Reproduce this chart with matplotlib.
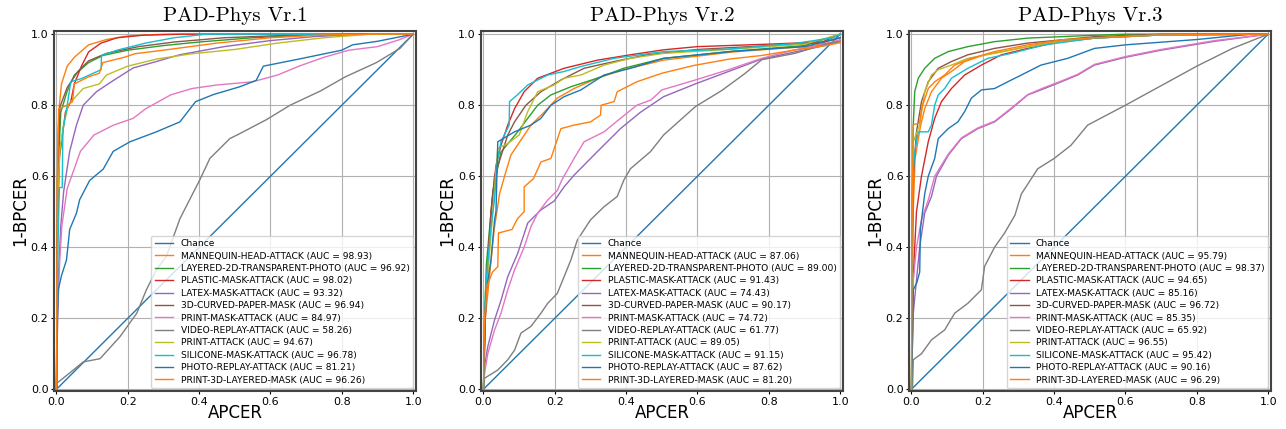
import matplotlib
matplotlib.use("Agg")
import matplotlib.pyplot as plt

# ---------------- data ----------------
labels = ["MANNEQUIN-HEAD-ATTACK", "LAYERED-2D-TRANSPARENT-PHOTO", "PLASTIC-MASK-ATTACK",
          "LATEX-MASK-ATTACK", "3D-CURVED-PAPER-MASK", "PRINT-MASK-ATTACK",
          "VIDEO-REPLAY-ATTACK", "PRINT-ATTACK", "SILICONE-MASK-ATTACK",
          "PHOTO-REPLAY-ATTACK", "PRINT-3D-LAYERED-MASK"]
titles = ["PAD-Phys Vr.1", "PAD-Phys Vr.2", "PAD-Phys Vr.3"]

auc_v1 = [98.93, 96.92, 98.02, 93.32, 96.94, 84.97, 58.26, 94.67, 96.78, 81.21, 96.26]
auc_v2 = [87.06, 89.00, 91.43, 74.43, 90.17, 74.72, 61.77, 89.05, 91.15, 87.62, 81.20]
auc_v3 = [95.79, 98.37, 94.65, 85.16, 96.72, 85.35, 65.92, 96.55, 95.42, 90.16, 96.29]

chance_x = [0, 1]
chance_y = [0, 1]

# ---- Vr.1 ----
v1_mannequin_x = [0, 0.002, 0.004, 0.008, 0.014, 0.03, 0.05, 0.09, 0.14, 0.2, 0.3, 1.0]
v1_mannequin_y = [0, 0.55, 0.72, 0.8, 0.86, 0.91, 0.935, 0.97, 0.985, 0.995, 1.0, 1.0]
v1_layered_x = [0, 0.004, 0.012, 0.03, 0.05, 0.09, 0.13, 0.2, 0.3, 0.4, 0.55, 0.7, 0.85, 1.0]
v1_layered_y = [0, 0.6, 0.78, 0.84, 0.885, 0.92, 0.94, 0.955, 0.968, 0.978, 0.99, 0.997, 1.0, 1.0]
v1_plastic_x = [0, 0.002, 0.008, 0.025, 0.04, 0.05, 0.07, 0.09, 0.125, 0.17, 0.24, 0.35, 1.0]
v1_plastic_y = [0, 0.4, 0.65, 0.78, 0.81, 0.86, 0.91, 0.95, 0.975, 0.99, 0.997, 1.0, 1.0]
v1_latex_x = [0, 0.002, 0.005, 0.012, 0.02, 0.037, 0.056, 0.075, 0.112, 0.16, 0.215, 0.28, 0.345,
              0.47, 0.6, 0.72, 0.85, 1.0]
v1_latex_y = [0, 0.2, 0.31, 0.46, 0.556, 0.67, 0.744, 0.8, 0.838, 0.87, 0.905, 0.923, 0.942,
              0.965, 0.982, 0.993, 1.0, 1.0]
v1_curved_x = [0, 0.003, 0.01, 0.03, 0.06, 0.09, 0.14, 0.23, 0.33, 0.47, 0.65, 0.8, 1.0]
v1_curved_y = [0, 0.6, 0.796, 0.85, 0.895, 0.925, 0.946, 0.965, 0.978, 0.99, 0.997, 1.0, 1.0]
v1_printmask_x = [0, 0.003, 0.009, 0.015, 0.03, 0.067, 0.105, 0.16, 0.215, 0.25, 0.32, 0.38, 0.45,
                  0.55, 0.62, 0.68, 0.75, 0.82, 0.9, 0.96, 1.0]
v1_printmask_y = [0, 0.2, 0.36, 0.46, 0.565, 0.67, 0.716, 0.744, 0.763, 0.79, 0.829, 0.847, 0.857,
                  0.866, 0.885, 0.91, 0.935, 0.955, 0.965, 0.984, 1.0]
v1_video_x = [0, 0.002, 0.005, 0.047, 0.075, 0.122, 0.178, 0.225, 0.252, 0.28, 0.308, 0.346, 0.383,
              0.402, 0.43, 0.486, 0.514, 0.59, 0.655, 0.74, 0.81, 0.897, 0.963, 1.0]
v1_video_y = [0, 0.02, 0.02, 0.054, 0.077, 0.086, 0.148, 0.214, 0.28, 0.336, 0.374, 0.48, 0.553,
              0.59, 0.65, 0.706, 0.72, 0.76, 0.8, 0.84, 0.88, 0.92, 0.96, 1.0]
v1_print_x = [0, 0.004, 0.01, 0.02, 0.033, 0.05, 0.075, 0.12, 0.14, 0.2, 0.28, 0.38, 0.5, 0.62,
              0.75, 0.88, 1.0]
v1_print_y = [0, 0.55, 0.68, 0.744, 0.8, 0.82, 0.847, 0.86, 0.885, 0.91, 0.93, 0.945, 0.957, 0.975,
              0.99, 1.0, 1.0]
v1_silicone_x = [0, 0.004, 0.008, 0.016, 0.018, 0.03, 0.04, 0.07, 0.125, 0.126, 0.17, 0.25, 0.33,
                 0.42, 1.0]
v1_silicone_y = [0, 0.4, 0.568, 0.568, 0.73, 0.8, 0.866, 0.875, 0.9, 0.94, 0.955, 0.975, 0.99,
                 1.0, 1.0]
v1_photo_x = [0, 0.003, 0.005, 0.014, 0.028, 0.037, 0.056, 0.065, 0.093, 0.131, 0.159, 0.206, 0.28,
              0.346, 0.39, 0.44, 0.514, 0.56, 0.58, 0.68, 0.8, 0.83, 0.9, 1.0]
v1_photo_y = [0, 0.2, 0.28, 0.32, 0.364, 0.45, 0.496, 0.534, 0.588, 0.62, 0.67, 0.697, 0.725,
              0.753, 0.81, 0.83, 0.852, 0.87, 0.91, 0.93, 0.955, 0.97, 0.98, 1.0]
v1_print3d_x = [0, 0.003, 0.006, 0.03, 0.045, 0.05, 0.09, 0.12, 0.13, 0.19, 0.22, 0.3, 0.45, 0.6,
                0.75, 0.9, 1.0]
v1_print3d_y = [0, 0.6, 0.79, 0.8, 0.81, 0.86, 0.88, 0.89, 0.92, 0.935, 0.945, 0.955, 0.975, 0.99,
                0.998, 1.0, 1.0]

# ---- Vr.2 ----
v2_mannequin_x = [0, 0.005, 0.02, 0.03, 0.045, 0.059, 0.077, 0.133, 0.17, 0.207, 0.254, 0.319,
                  0.393, 0.505, 0.7, 0.9, 1.0]
v2_mannequin_y = [0, 0.2, 0.35, 0.45, 0.55, 0.6, 0.66, 0.744, 0.78, 0.82, 0.847, 0.876,
                  0.9, 0.927, 0.95, 0.965, 0.98]
v2_layered_x = [0, 0.003, 0.008, 0.015, 0.026, 0.049, 0.096, 0.124, 0.152, 0.189, 0.245, 0.319,
                0.393, 0.505, 0.7, 0.9, 1.0]
v2_layered_y = [0, 0.2, 0.35, 0.43, 0.556, 0.668, 0.725, 0.763, 0.8, 0.829, 0.852, 0.876,
                0.904, 0.932, 0.952, 0.968, 1.0]
v2_plastic_x = [0, 0.005, 0.01, 0.021, 0.035, 0.049, 0.068, 0.087, 0.114, 0.152, 0.189, 0.226,
                0.32, 0.412, 0.505, 0.6, 0.8, 0.95, 1.0]
v2_plastic_y = [0, 0.2, 0.33, 0.5, 0.63, 0.687, 0.744, 0.79, 0.838, 0.876, 0.89, 0.904,
                0.927, 0.942, 0.956, 0.965, 0.972, 0.978, 1.0]
v2_latex_x = [0, 0.003, 0.012, 0.031, 0.049, 0.068, 0.096, 0.124, 0.161, 0.198, 0.226, 0.254,
              0.319, 0.384, 0.44, 0.505, 0.594, 0.687, 0.78, 0.873, 0.966, 1.0]
v2_latex_y = [0, 0.064, 0.12, 0.195, 0.25, 0.317, 0.383, 0.468, 0.505, 0.53, 0.57, 0.603,
              0.669, 0.734, 0.78, 0.824, 0.86, 0.895, 0.93, 0.95, 0.97, 0.98]
v2_curved_x = [0, 0.005, 0.012, 0.022, 0.031, 0.068, 0.087, 0.119, 0.161, 0.217, 0.282, 0.366,
               0.459, 0.6, 0.8, 0.95, 1.0]
v2_curved_y = [0, 0.2, 0.35, 0.5, 0.6, 0.716, 0.753, 0.8, 0.838, 0.871, 0.904, 0.923,
               0.942, 0.957, 0.968, 0.976, 0.99]
v2_printmask_x = [0, 0.003, 0.012, 0.031, 0.049, 0.068, 0.087, 0.114, 0.133, 0.152, 0.18, 0.207,
                  0.22, 0.254, 0.282, 0.338, 0.384, 0.43, 0.47, 0.5, 0.594, 0.687, 0.78, 0.873,
                  0.966, 1.0]
v2_printmask_y = [0, 0.045, 0.1, 0.167, 0.214, 0.28, 0.336, 0.4, 0.458, 0.496, 0.533, 0.56,
                  0.59, 0.65, 0.697, 0.725, 0.763, 0.8, 0.815, 0.843, 0.871, 0.9, 0.932, 0.956,
                  0.974, 0.985]
v2_video_x = [0, 0.003, 0.04, 0.068, 0.087, 0.105, 0.133, 0.161, 0.18, 0.207, 0.226, 0.245, 0.263,
              0.3, 0.338, 0.375, 0.394, 0.412, 0.468, 0.505, 0.594, 0.669, 0.734, 0.78, 0.873,
              0.966, 1.0]
v2_video_y = [0, 0.031, 0.054, 0.083, 0.11, 0.158, 0.177, 0.214, 0.242, 0.27, 0.317, 0.364, 0.42,
              0.477, 0.514, 0.543, 0.59, 0.621, 0.669, 0.716, 0.796, 0.842, 0.89, 0.928, 0.946,
              0.974, 0.98]
v2_print_x = [0, 0.003, 0.01, 0.02, 0.03, 0.04, 0.068, 0.1, 0.124, 0.152, 0.198, 0.226, 0.273,
              0.338, 0.412, 0.505, 0.7, 0.9, 1.0]
v2_print_y = [0, 0.19, 0.3, 0.42, 0.55, 0.678, 0.692, 0.716, 0.782, 0.838, 0.857, 0.876, 0.885,
              0.913, 0.932, 0.946, 0.958, 0.972, 1.0]
v2_silicone_x = [0, 0.003, 0.007, 0.02, 0.03, 0.04, 0.049, 0.072, 0.073, 0.096, 0.124, 0.18,
                 0.226, 0.273, 0.366, 0.505, 0.687, 0.873, 0.98, 1.0]
v2_silicone_y = [0, 0.2, 0.3, 0.45, 0.527, 0.65, 0.697, 0.744, 0.81, 0.83, 0.857, 0.885,
                 0.895, 0.909, 0.932, 0.951, 0.958, 0.974, 0.99, 1.0]
v2_photo_x = [0, 0.004, 0.007, 0.021, 0.031, 0.035, 0.04, 0.087, 0.133, 0.161, 0.189, 0.226,
              0.273, 0.338, 0.412, 0.505, 0.7, 0.9, 1.0]
v2_photo_y = [0, 0.2, 0.27, 0.364, 0.477, 0.5, 0.697, 0.725, 0.744, 0.763, 0.8, 0.824,
              0.843, 0.885, 0.904, 0.932, 0.952, 0.965, 0.99]
v2_print3d_x = [0, 0.003, 0.01, 0.025, 0.04, 0.042, 0.08, 0.095, 0.114, 0.114, 0.14, 0.161, 0.189,
                0.217, 0.254, 0.3, 0.328, 0.33, 0.366, 0.375, 0.43, 0.5, 0.59, 0.69, 0.78, 0.87,
                0.96, 1.0]
v2_print3d_y = [0, 0.2, 0.29, 0.33, 0.345, 0.44, 0.45, 0.48, 0.5, 0.57, 0.593, 0.64, 0.65,
                0.734, 0.744, 0.753, 0.772, 0.8, 0.81, 0.838, 0.866, 0.89, 0.912, 0.93, 0.94,
                0.955, 0.968, 0.976]

# ---- Vr.3 ----
v3_mannequin_x = [0, 0.003, 0.01, 0.025, 0.037, 0.056, 0.084, 0.112, 0.149, 0.205, 0.28, 0.373,
                  0.513, 0.7, 1.0]
v3_mannequin_y = [0, 0.45, 0.65, 0.74, 0.79, 0.838, 0.876, 0.895, 0.923, 0.942, 0.956, 0.975,
                  0.989, 0.998, 1.0]
v3_layered_x = [0, 0.002, 0.005, 0.009, 0.019, 0.037, 0.065, 0.103, 0.158, 0.233, 0.326, 0.42,
                0.513, 0.6, 1.0]
v3_layered_y = [0, 0.5, 0.744, 0.838, 0.876, 0.904, 0.932, 0.951, 0.965, 0.979, 0.989, 0.993,
                0.997, 1.0, 1.0]
v3_plastic_x = [0, 0.003, 0.005, 0.009, 0.014, 0.028, 0.047, 0.065, 0.084, 0.112, 0.149, 0.196,
                0.252, 0.326, 0.42, 0.513, 0.7, 1.0]
v3_plastic_y = [0, 0.2, 0.31, 0.4, 0.5, 0.6, 0.697, 0.763, 0.81, 0.847, 0.885, 0.913,
                0.942, 0.96, 0.979, 0.989, 0.998, 1.0]
v3_latex_x = [0, 0.002, 0.005, 0.014, 0.023, 0.037, 0.056, 0.07, 0.103, 0.14, 0.186, 0.233, 0.28,
              0.326, 0.373, 0.42, 0.466, 0.513, 0.6, 0.7, 0.85, 1.0]
v3_latex_y = [0, 0.1, 0.214, 0.308, 0.4, 0.496, 0.543, 0.6, 0.659, 0.706, 0.734, 0.753, 0.79,
              0.829, 0.847, 0.866, 0.885, 0.913, 0.935, 0.955, 0.98, 1.0]
v3_curved_x = [0, 0.003, 0.005, 0.014, 0.028, 0.047, 0.075, 0.112, 0.158, 0.233, 0.326, 0.42,
               0.513, 0.7, 1.0]
v3_curved_y = [0, 0.4, 0.6, 0.725, 0.81, 0.866, 0.904, 0.923, 0.942, 0.96, 0.975, 0.984,
               0.993, 1.0, 1.0]
v3_printmask_x = [0, 0.002, 0.005, 0.014, 0.028, 0.047, 0.065, 0.103, 0.14, 0.186, 0.233, 0.28,
                  0.326, 0.373, 0.42, 0.466, 0.513, 0.6, 0.7, 0.85, 1.0]
v3_printmask_y = [0, 0.15, 0.308, 0.4, 0.477, 0.533, 0.6, 0.662, 0.708, 0.736, 0.755, 0.792,
                  0.83, 0.85, 0.868, 0.887, 0.915, 0.937, 0.957, 0.982, 1.0]
v3_video_x = [0, 0.003, 0.005, 0.028, 0.056, 0.093, 0.121, 0.158, 0.196, 0.205, 0.233, 0.261,
              0.29, 0.308, 0.354, 0.4, 0.447, 0.494, 0.6, 0.7, 0.8, 0.9, 1.0]
v3_video_y = [0, 0.007, 0.083, 0.1, 0.139, 0.167, 0.214, 0.242, 0.28, 0.346, 0.4, 0.44,
              0.49, 0.55, 0.621, 0.65, 0.687, 0.744, 0.8, 0.855, 0.91, 0.96, 1.0]
v3_print_x = [0, 0.002, 0.005, 0.023, 0.037, 0.056, 0.075, 0.112, 0.158, 0.233, 0.326, 0.42,
              0.513, 0.7, 1.0]
v3_print_y = [0, 0.45, 0.697, 0.744, 0.838, 0.885, 0.9, 0.913, 0.932, 0.946, 0.965, 0.979,
              0.989, 0.998, 1.0]
v3_silicone_x = [0, 0.003, 0.005, 0.009, 0.019, 0.047, 0.056, 0.065, 0.075, 0.093, 0.112, 0.158,
                 0.214, 0.28, 0.373, 0.513, 0.7, 1.0]
v3_silicone_y = [0, 0.4, 0.62, 0.668, 0.725, 0.725, 0.744, 0.8, 0.829, 0.847, 0.876, 0.904,
                 0.932, 0.946, 0.97, 0.989, 0.998, 1.0]
v3_photo_x = [0, 0.003, 0.005, 0.015, 0.023, 0.025, 0.037, 0.047, 0.065, 0.075, 0.103, 0.13,
              0.149, 0.168, 0.196, 0.233, 0.27, 0.308, 0.363, 0.438, 0.513, 0.6, 0.8, 0.95, 1.0]
v3_photo_y = [0, 0.15, 0.28, 0.3, 0.33, 0.45, 0.55, 0.6, 0.65, 0.706, 0.734, 0.753,
              0.782, 0.82, 0.843, 0.847, 0.866, 0.885, 0.913, 0.932, 0.96, 0.97, 0.985, 1.0, 1.0]
v3_print3d_x = [0, 0.002, 0.005, 0.023, 0.028, 0.047, 0.065, 0.093, 0.121, 0.168, 0.233, 0.326,
                0.42, 0.513, 0.7, 1.0]
v3_print3d_y = [0, 0.5, 0.745, 0.75, 0.79, 0.847, 0.866, 0.885, 0.913, 0.932, 0.951, 0.97,
                0.984, 0.99, 0.998, 1.0]

panels = [
    (auc_v1, [(v1_mannequin_x, v1_mannequin_y), (v1_layered_x, v1_layered_y),
              (v1_plastic_x, v1_plastic_y), (v1_latex_x, v1_latex_y),
              (v1_curved_x, v1_curved_y), (v1_printmask_x, v1_printmask_y),
              (v1_video_x, v1_video_y), (v1_print_x, v1_print_y),
              (v1_silicone_x, v1_silicone_y), (v1_photo_x, v1_photo_y),
              (v1_print3d_x, v1_print3d_y)]),
    (auc_v2, [(v2_mannequin_x, v2_mannequin_y), (v2_layered_x, v2_layered_y),
              (v2_plastic_x, v2_plastic_y), (v2_latex_x, v2_latex_y),
              (v2_curved_x, v2_curved_y), (v2_printmask_x, v2_printmask_y),
              (v2_video_x, v2_video_y), (v2_print_x, v2_print_y),
              (v2_silicone_x, v2_silicone_y), (v2_photo_x, v2_photo_y),
              (v2_print3d_x, v2_print3d_y)]),
    (auc_v3, [(v3_mannequin_x, v3_mannequin_y), (v3_layered_x, v3_layered_y),
              (v3_plastic_x, v3_plastic_y), (v3_latex_x, v3_latex_y),
              (v3_curved_x, v3_curved_y), (v3_printmask_x, v3_printmask_y),
              (v3_video_x, v3_video_y), (v3_print_x, v3_print_y),
              (v3_silicone_x, v3_silicone_y), (v3_photo_x, v3_photo_y),
              (v3_print3d_x, v3_print3d_y)]),
]

# ---------------- figure ----------------
fig = plt.figure(figsize=(12.86, 4.29), dpi=100)
lefts = [54, 481, 909]

for i, (aucs, curves) in enumerate(panels):
    ax = fig.add_axes([lefts[i] / 1286, 1 - 391 / 429, 362 / 1286, 360 / 429])
    ax.plot(chance_x, chance_y, lw=1.0, label="Chance")
    for name, auc, (xs, ys) in zip(labels, aucs, curves):
        ax.plot(xs, ys, lw=1.0, label="%s (AUC = %.2f)" % (name, auc))
    ax.set_xlim(-0.007, 1.008)
    ax.set_ylim(-0.005, 1.009)
    ax.set_xticks([0, 0.2, 0.4, 0.6, 0.8, 1.0])
    ax.set_yticks([0, 0.2, 0.4, 0.6, 0.8, 1.0])
    ax.tick_params(labelsize=8, length=2.5, pad=1.5)
    ax.grid(True, color="#b0b0b0", lw=0.8)
    for sp in ax.spines.values():
        sp.set_linewidth(1.5)
        sp.set_color("#444444")
    ax.set_xlabel("APCER", fontsize=12, labelpad=-2)
    ax.set_ylabel("1-BPCER", fontsize=12, labelpad=1)
    ax.set_title(titles[i], fontsize=15, family="cmr10", pad=7)
    ax.legend(loc="lower right", fontsize=6.6, labelspacing=0.37, borderaxespad=0.3,
              handlelength=2.0)

fig.savefig("out.png", dpi=100)
